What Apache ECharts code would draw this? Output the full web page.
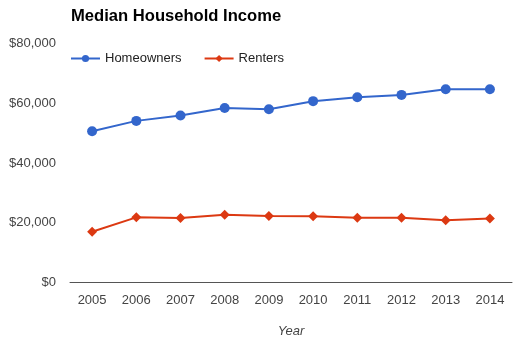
<!DOCTYPE html>
<html>
<head>
<meta charset="utf-8">
<script src="https://cdn.jsdelivr.net/npm/echarts@6/dist/echarts.min.js"></script>
<style>
  html, body { margin: 0; padding: 0; background: #fff; }
  #chart { width: 514px; height: 339px; }
</style>
</head>
<body>
<div id="chart"></div>
<script>
// Median household income by tenure, 2005–2014
const years = ['2005', '2006', '2007', '2008', '2009', '2010', '2011', '2012', '2013', '2014'];
const homeowners = [50600, 54100, 55900, 58400, 58000, 60700, 62000, 62800, 64700, 64700];
const renters = [17000, 21800, 21600, 22700, 22300, 22200, 21700, 21700, 20800, 21400];
const yTicks = [0, 20000, 40000, 60000, 80000];

const font = 'Liberation Sans, Arial, sans-serif';
const chart = echarts.init(document.getElementById('chart'), null, { renderer: 'canvas' });

chart.setOption({
  animation: false,
  backgroundColor: '#ffffff',
  title: {
    text: 'Median Household Income',
    left: 66,
    top: 3,
    textStyle: { fontFamily: font, fontSize: 16.6, fontWeight: 'bold', color: '#000' }
  },
  legend: {
    left: 65,
    top: 47,
    itemWidth: 29,
    itemHeight: 9,
    itemGap: 22,
    textStyle: { fontFamily: font, fontSize: 13, color: '#222' },
    data: ['Homeowners', 'Renters']
  },
  grid: { left: 70, right: 2, top: 43.5, bottom: 56.5, containLabel: false, outerBoundsMode: 'none' },
  xAxis: {
    type: 'category',
    data: years,
    boundaryGap: true,
    name: 'Year',
    nameLocation: 'middle',
    nameGap: 42,
    nameTextStyle: { fontFamily: font, fontSize: 13, fontStyle: 'italic', color: '#444' },
    axisLine: { lineStyle: { color: '#555', width: 1 } },
    axisTick: { show: false },
    axisLabel: { fontFamily: font, fontSize: 13, color: '#444', margin: 11 }
  },
  yAxis: {
    type: 'value',
    min: yTicks[0],
    max: yTicks[yTicks.length - 1],
    interval: yTicks[1] - yTicks[0],
    axisLine: { show: false },
    axisTick: { show: false },
    splitLine: { show: false },
    axisLabel: {
      fontFamily: font, fontSize: 13, color: '#444', margin: 14,
      formatter: v => '$' + v.toLocaleString('en-US')
    }
  },
  series: [
    {
      name: 'Homeowners',
      type: 'line',
      data: homeowners,
      color: '#3366cc',
      symbol: 'circle',
      symbolSize: 10,
      lineStyle: { width: 2 }
    },
    {
      name: 'Renters',
      type: 'line',
      data: renters,
      color: '#dc3912',
      symbol: 'diamond',
      symbolSize: 10,
      lineStyle: { width: 2 }
    }
  ]
});
</script>
</body>
</html>
